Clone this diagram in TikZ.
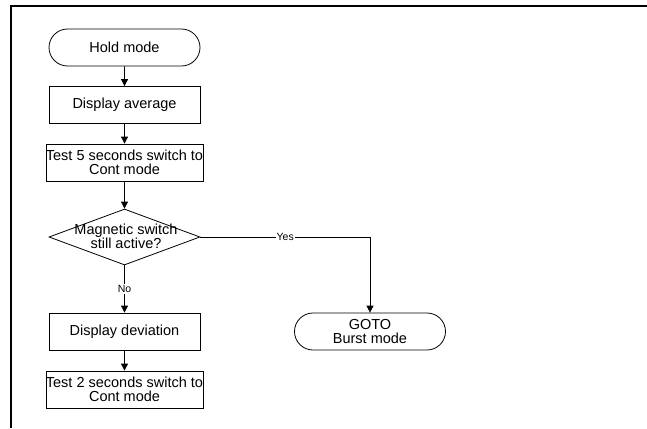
\documentclass[tikz,border=0pt]{standalone}
\usepackage{fontspec}
\setmainfont{Liberation Sans}
\usetikzlibrary{shapes,arrows.meta,calc,positioning}

\tikzset{
    box/.style={draw, rectangle, minimum width=151pt, minimum height=37pt, inner sep=0pt, align=center, line width=0.8pt, font=\fontsize{14.5}{14.5}\selectfont},
    term/.style={draw, rounded rectangle, minimum width=151pt, minimum height=37pt, inner sep=0pt, align=center, line width=0.8pt, font=\fontsize{14.5}{14.5}\selectfont},
    decision/.style={draw, diamond, minimum width=151pt, minimum height=56pt, inner sep=0pt, line width=0.8pt},
    flow/.style={-{Triangle[length=7pt,width=7pt]}, line width=0.8pt},
    answer/.style={fill=white, inner sep=1pt, font=\fontsize{10.5}{11}\selectfont},
}

\begin{document}
\begin{tikzpicture}[x=1pt, y=-1pt]
        \useasboundingbox (0,0) rectangle (647,428);
        % frame
        \draw[line width=1.5pt, black] (11,428) -- (11,6) -- (647,6);

        \node[term] (hold) at (124.5,47.5) {Hold mode};
        \node[box] (avg) at (124.5,105) {Display average};
        \node[box] (test5) at (124.5,162.5) {Test 5 seconds switch to\\Cont mode};
        \node[decision] (magnet) at (124.5,237) {};
        \node[align=center, inner sep=0pt, font=\fontsize{14.5}{14}\selectfont] (magnettext) at (126,236) {Magnetic switch\\still active?};
        \node[box] (dev) at (124.5,331.5) {Display deviation};
        \node[box] (test2) at (124.5,389.5) {Test 2 seconds switch to\\Cont mode};
        \node[term] (burst) at (370,331.5) {GOTO\\Burst mode};

        \draw[flow] (hold) -- (avg);
        \draw[flow] (avg) -- (test5);
        \draw[flow] (test5) -- (magnet);
        \draw[flow] (magnet) -- node[answer] {No} (dev);
        \draw[flow] (dev) -- (test2);
        \draw[flow] (magnet.east) -| node[answer, pos=0.25] {Yes} (burst.north);
%        \draw[flow] (test2) -- (0,0);
\end{tikzpicture}
\end{document}
